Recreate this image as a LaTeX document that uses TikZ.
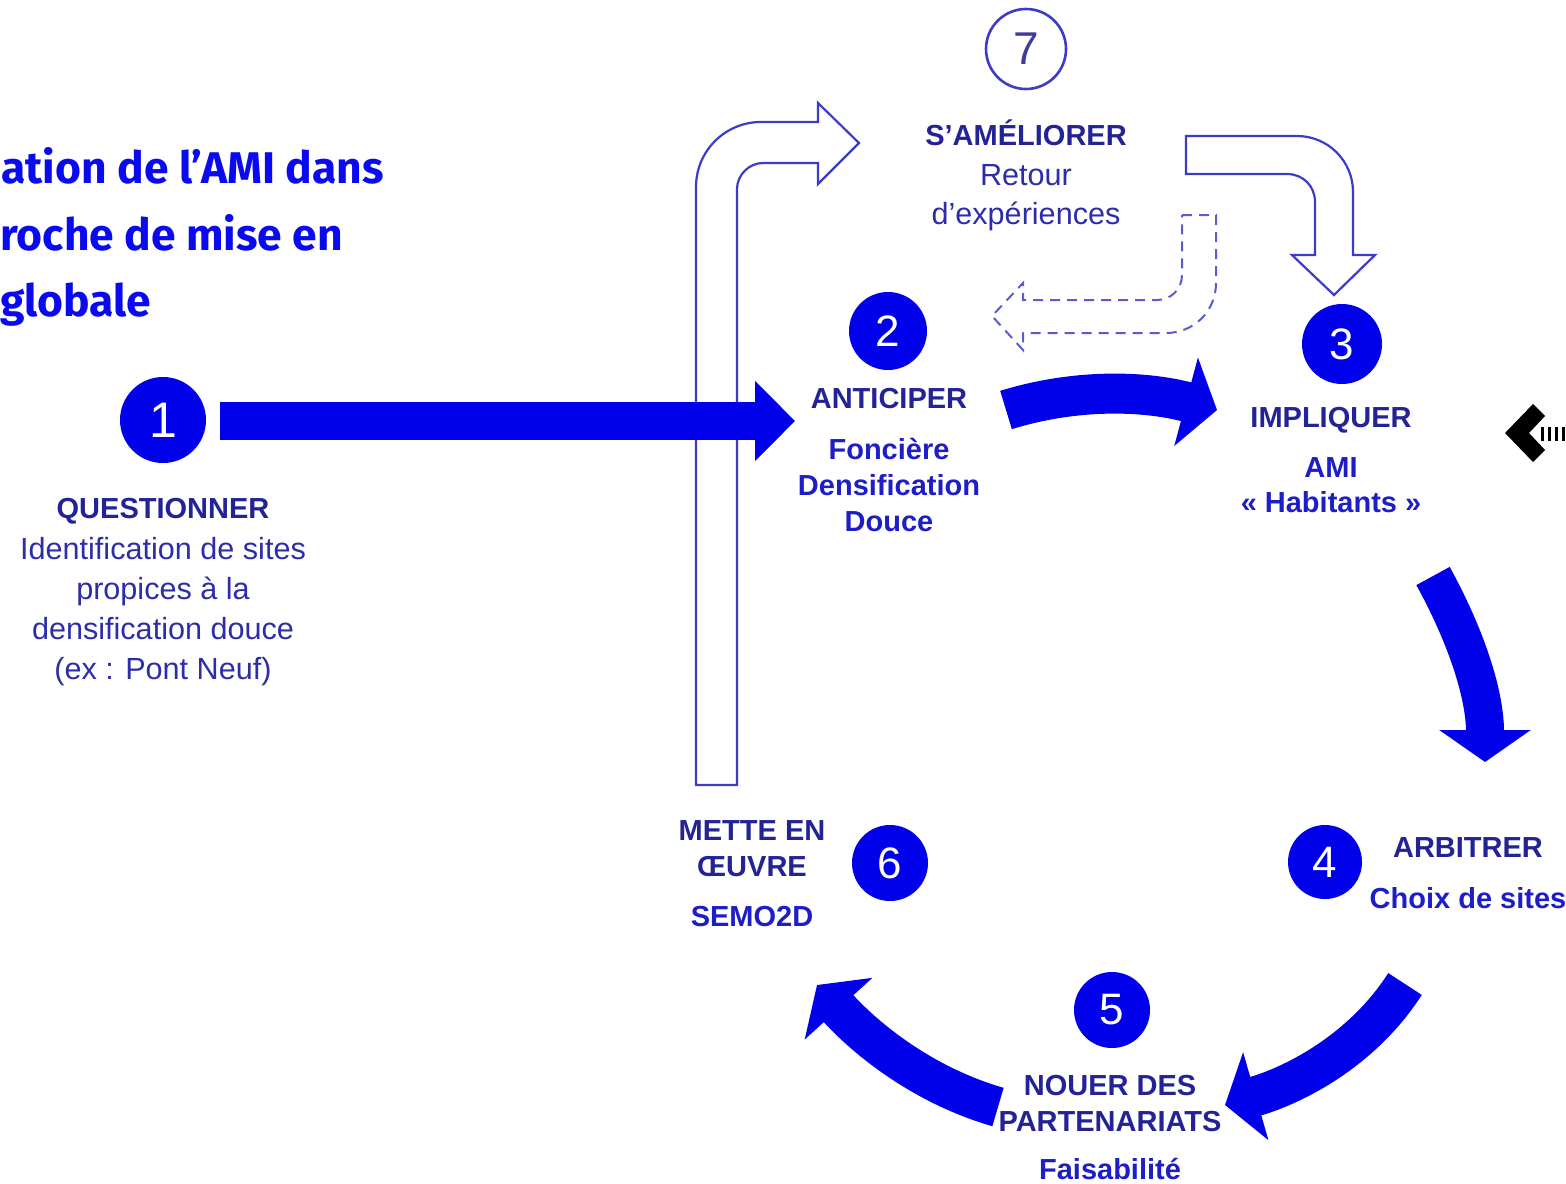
\documentclass[tikz,border=0pt]{standalone}
\usepackage{fontspec}
\setmainfont{Liberation Sans}
\newfontfamily\titlefont{Fira Sans}
\newfontfamily\digitfont{Liberation Sans}
\usetikzlibrary{arrows.meta}
\definecolor{mainblue}{RGB}{0,0,235}
\definecolor{titleblue}{RGB}{10,10,240}
\definecolor{headblue}{RGB}{35,35,150}
\definecolor{subblue}{RGB}{30,30,200}
\definecolor{regblue}{RGB}{45,45,170}
\definecolor{outlineblue}{RGB}{60,60,200}
\definecolor{dashblue}{RGB}{90,90,210}
\definecolor{sevenblue}{RGB}{60,60,160}
\begin{document}
\begin{tikzpicture}[x=0.5pt,y=-0.5pt,
  numc/.style={circle, fill=mainblue, text=white, inner sep=0pt, font=\digitfont\fontsize{22}{22}\selectfont},
  headtxt/.style={anchor=base, inner sep=0pt, text=headblue, font=\bfseries\fontsize{14.5}{17}\selectfont},
  subtxt/.style={anchor=base, inner sep=0pt, text=subblue, font=\bfseries\fontsize{14.5}{17}\selectfont},
  regtxt/.style={anchor=base, inner sep=0pt, text=regblue, font=\fontsize{15.3}{18}\selectfont},
  ttl/.style={anchor=base west, inner sep=0pt, text=titleblue, font=\titlefont\bfseries\fontsize{22.2}{26}\selectfont},
  bigarrow/.style={draw=mainblue, line width=20pt, -{Triangle[length=16pt,width=45pt]}},
  outarrow/.style={draw=outlineblue, line width=1.1pt, fill=white, line join=miter},
  dasharrow/.style={draw=dashblue, line width=1pt, dash pattern=on 5pt off 3.5pt}
]
\clip (0,0) rectangle (1566,1183);
\fill[white] (0,0) rectangle (1566,1183);

% title
\node[ttl] (t1) at (1,183) {ation de l’AMI dans};
\node[ttl] (t2) at (0,250) {roche de mise en};
\node[ttl] (t3) at (0,316) {globale};

% circles
\node[numc, minimum size=43pt, font=\digitfont\fontsize{25}{25}\selectfont] (c1) at (163,420) {1};
\node[numc, minimum size=39pt] (c2) at (888,331) {2};
\node[numc, minimum size=40pt] (c3) at (1342,344) {3};
\node[numc, minimum size=37pt] (c4) at (1325,862) {4};
\node[numc, minimum size=38pt] (c5) at (1112,1010) {5};
\node[numc, minimum size=38pt] (c6) at (890,863) {6};
\node[circle, draw=outlineblue, line width=1.3pt, minimum size=40pt, inner sep=0pt, text=sevenblue, font=\digitfont\fontsize{23}{23}\selectfont] (c7) at (1026,49) {7};

% outline arrow 6 -> 7
\path[outarrow] (696,785) -- (696,187) .. controls (696,151) and (725,122) .. (761,122)
  -- (818,122) -- (818,103) -- (859,143) -- (818,184) -- (818,163) -- (763,163)
  .. controls (749,163) and (737,175) .. (737,189) -- (737,785) -- cycle;

% outline arrow 7 -> 3
\path[outarrow] (1186,136) -- (1297,136) .. controls (1328,136) and (1353,161) .. (1353,192)
  -- (1353,255) -- (1375,255) -- (1334,295) -- (1292,255) -- (1315,255) -- (1315,202)
  .. controls (1315,186) and (1303,174) .. (1287,174) -- (1186,174) -- cycle;

% dashed arrow 7 -> 2
\path[dasharrow] (1182,215) -- (1216,215) -- (1216,283) .. controls (1216,311) and (1194,333) .. (1166,333)
  -- (1023,333) -- (1023,350) -- (992,316) -- (1023,283) -- (1023,300) -- (1157,300)
  .. controls (1171,300) and (1182,289) .. (1182,275) -- cycle;

% straight arrow 1 -> 2
\coordinate (a1s) at (220,421);
\coordinate (a1e) at (795,421);
\draw[draw=mainblue, line width=19pt, -{Triangle[length=20pt,width=39pt]}] (a1s) -- (a1e);

% curved arrows
\coordinate (a2s) at (1006,410);
\coordinate (a2e) at (1217,410);
\draw[bigarrow] (a2s) .. controls (1077,388) and (1146,391) .. (a2e);
\coordinate (a3s) at (1433,576);
\coordinate (a3e) at (1485,762);
\draw[bigarrow, line width=19pt] (a3s) .. controls (1466,636) and (1485,694) .. (a3e);
\coordinate (a4s) at (1405,984);
\coordinate (a4e) at (1225,1105);
\draw[bigarrow] (a4s) .. controls (1364,1048) and (1298,1084) .. (a4e);
\coordinate (a5s) at (998,1107);
\coordinate (a5e) at (817,985);
\draw[bigarrow] (a5s) .. controls (925,1086) and (868,1041) .. (a5e);

% texts step 1
\node[headtxt] (q1) at (163,518) {QUESTIONNER};
\node[regtxt] (q2) at (163,559) {Identification de sites};
\node[regtxt] (q3) at (163,599) {propices à la};
\node[regtxt] (q4) at (163,639) {densification douce};
\node[regtxt] (q5) at (163,679) {(ex : Pont Neuf)};

% step 2
\node[headtxt] (p1) at (889,408) {ANTICIPER};
\node[subtxt] (p2) at (889,459) {Foncière};
\node[subtxt] (p3) at (889,495) {Densification};
\node[subtxt] (p4) at (889,531) {Douce};

% step 3
\node[headtxt] (i1) at (1331,427) {IMPLIQUER};
\node[subtxt] (i2) at (1331,477) {AMI};
\node[subtxt] (i3) at (1331,512) {« Habitants »};

% step 7
\node[headtxt] (s1) at (1026,145) {S’AMÉLIORER};
\node[regtxt] (s2) at (1026,185) {Retour};
\node[regtxt] (s3) at (1026,224) {d’expériences};

% step 4
\node[headtxt] (r1) at (1468,857) {ARBITRER};
\node[subtxt] (r2) at (1468,908) {Choix de sites};

% step 6
\node[headtxt] (m1) at (752,840) {METTE EN};
\node[headtxt] (m2) at (752,876) {ŒUVRE};
\node[subtxt] (m3) at (752,926) {SEMO2D};

% step 5
\node[headtxt] (n1) at (1110,1095) {NOUER DES};
\node[headtxt] (n2) at (1110,1131) {PARTENARIATS};
\node[subtxt] (n3) at (1110,1179) {Faisabilité};

% black chevron at right edge
\fill[black] (1505,433) -- (1533,404) -- (1545,416) -- (1529,433) -- (1545,450) -- (1533,462) -- cycle;
\foreach \bx in {1541,1548,1555,1562} {
  \fill[black] (\bx,427) rectangle ++(3,14);
}
\end{tikzpicture}
\end{document}
